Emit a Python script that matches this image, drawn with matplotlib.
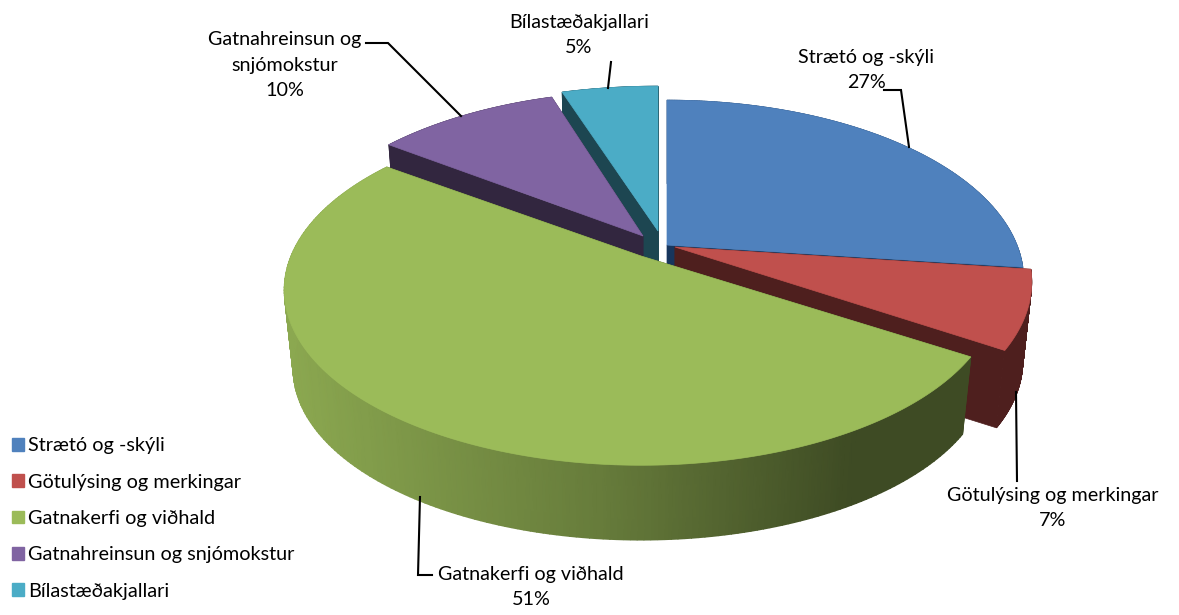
import numpy as np
import matplotlib
matplotlib.use("Agg")
import matplotlib.pyplot as plt
from matplotlib.colors import LinearSegmentedColormap, to_rgb
from matplotlib.patches import Polygon, Patch

categories = ["Strætó og -skýli", "Götulýsing og merkingar", "Gatnakerfi og viðhald",
              "Gatnahreinsun og snjómokstur", "Bílastæðakjallari"]
values = [27, 7, 51, 10, 5]

plt.rcParams['font.family'] = ['Lato', 'DejaVu Sans']

top_colors = ["#4F81BD", "#C0504D", "#9BBB59", "#8064A2", "#4BACC6"]
side_colors = ["#17365D", "#4E1F1E", "#3F4F22", "#32263F", "#1D4651"]

# pixel position of each slice's apex
centers = [(667, 245), (675, 247), (641, 256), (643, 236), (658, 231)]
x_scale = [1, 1, 1, 1, 1.05]
y_scale = [1, 1, 0.975, 1, 1]
draw_order = [4, 3, 0, 1, 2]
R = 350
RY = 173
K = 0.194
DEPTH = 80
BOTTOM_SCALE = 0.975


def project(t):
    v = -np.cos(t)
    s = 1 / (1 - K * v)
    return R * np.sin(t) * s, RY * v * s


fig = plt.figure(figsize=(11.79, 6.15), dpi=100)
ax = fig.add_axes([0, 0, 1, 1])

edges = np.cumsum([0] + values) / sum(values) * 2 * np.pi

# green wall goes from light on the left to dark on the right
base = np.array(to_rgb(top_colors[2]))
green_wall = LinearSegmentedColormap.from_list(
    "green_wall", [(0, base * 0.90), (0.45, base * 0.66), (0.8, base * 0.40), (1, base * 0.40)])

for z, i in enumerate(draw_order):
    cx, cy = centers[i]
    t = np.linspace(edges[i], edges[i + 1], 200)
    dx, dy = project(t)
    dx = dx * x_scale[i]
    dy = dy * y_scale[i]
    xt, yt = cx + dx, cy + dy
    xb, yb = cx + dx * BOTTOM_SCALE, cy + dy * BOTTOM_SCALE + DEPTH

    # radial walls
    for j in [0, -1]:
        ax.add_patch(Polygon([(cx, cy), (xt[j], yt[j]), (xb[j], yb[j]), (cx, cy + DEPTH)],
                             fc=side_colors[i], ec=side_colors[i], lw=0.5, zorder=1 + z))
    # outer wall
    if i == 2:
        X = np.vstack([xt, xb])
        Y = np.vstack([yt, yb])
        ax.pcolormesh(X, Y, np.vstack([xt, xt]), shading="gouraud", cmap=green_wall,
                      vmin=280, vmax=1000, zorder=1.2 + z)
    else:
        for j in range(len(t) - 1):
            ax.add_patch(Polygon([(xt[j], yt[j]), (xt[j + 1], yt[j + 1]), (xb[j + 1], yb[j + 1]), (xb[j], yb[j])],
                                 fc=side_colors[i], ec=side_colors[i], lw=0.5, zorder=1.2 + z))
    ax.add_patch(Polygon(np.r_[[(cx, cy)], np.c_[xt, yt]], fc=top_colors[i], ec=top_colors[i],
                         lw=0.5, zorder=1.5 + z))

ax.set_xlim(0, 1179)
ax.set_ylim(615, 0)
ax.axis("off")

# leader lines and labels
leaders = [[(884, 90), (901, 90), (909, 147)],
           [(1016, 392), (1017, 481)],
           [(420, 497), (418, 575), (432, 575)],
           [(366, 43), (388, 43), (461, 116)],
           [(611, 62), (608, 88)]]
for pts in leaders:
    ax.plot(*zip(*pts), color="black", lw=1.5, solid_joinstyle="miter", zorder=10)

label_names = [categories[0], categories[1], categories[2], "Gatnahreinsun og\nsnjómokstur", categories[4]]
label_pos = [(866, 70), (1053, 508), (531, 587), (285, 65), (579, 35)]
for name, val, pos in zip(label_names, values, label_pos):
    ax.text(pos[0], pos[1], f"{name}\n{val}%", ha="center", va="center", fontsize=14.2,
            color="black", linespacing=1.6, zorder=11)

handles = [Patch(fc=c, ec=c) for c in top_colors]
ax.legend(handles, categories, loc="lower left", bbox_to_anchor=(12 / 1179, 15.5 / 615),
          frameon=False, fontsize=14.3, handlelength=0.6, handleheight=0.6,
          handletextpad=0.2, labelspacing=0.97, borderaxespad=0, borderpad=0)

fig.savefig("out.png", dpi=100)
